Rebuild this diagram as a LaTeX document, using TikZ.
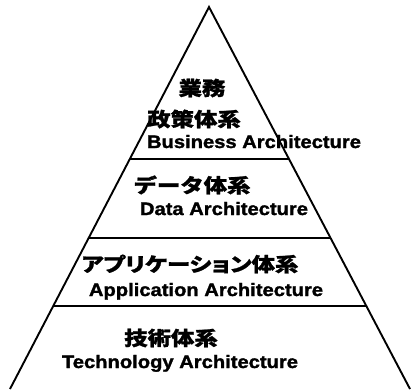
\documentclass[tikz,border=0pt]{standalone}
\usepackage{fontspec}
\setmainfont{Liberation Sans}[FakeStretch=1.12, BoldFeatures={FakeBold=1.6}]
\newfontfamily\jpfont{Noto Sans CJK JP}[FakeStretch=1.2, BoldFeatures={FakeBold=1.2}]
\newfontfamily\jpkana{Noto Sans CJK JP}[FakeStretch=1.2, RawFeature=+palt, BoldFeatures={FakeBold=1.2}]
\usetikzlibrary{intersections}

\begin{document}
\begin{tikzpicture}[
  x=1pt, y=-1pt,
  line/.style={
    line width=1.9pt,
    draw=black,
  },
  jp/.style={font=\jpfont\bfseries\fontsize{19.5}{20}\selectfont, inner sep=0pt},
  en/.style={font=\bfseries\fontsize{18}{19}\selectfont, inner sep=0pt, anchor=base}]
  \useasboundingbox (0,0) rectangle (411,389);
  \coordinate (A) at (10,389);
  \coordinate (B) at (410,389);
  \coordinate (C) at (209,7);
  \path[name path=AC] (A) -- (C);
  \path[name path=BC] (B) -- (C);
  \draw[line, line join=miter] (A) -- (C) -- (B);
  \foreach \y in {159,238,306}
  {
    \path[name path=horiz] (0,\y) -- (411,\y);
    \draw[line, name intersections={of=AC and horiz,by=P},
    name intersections={of=BC and horiz,by=Q}] (P) -- (Q);
  }
  \foreach \n/\x/\y/\A in
  {busA/202/88/業務, busB/194/119/政策体系, data/192/185/データ体系, tech/171/338/技術体系}
  {
    \node[jp] (\n-jp) at (\x,\y) {\A};
  }
  \node[jp, font=\jpkana\bfseries\fontsize{19.5}{20}\selectfont] (app-jp) at (190,264) {アプリケーション体系};
  \foreach \n/\x/\y/\A in
  {bus/254/148/Business Architecture, data/224/215/Data Architecture,
   app/206/296/Application Architecture, tech/180/368/Technology Architecture}
  {
    \node[en] (\n-en) at (\x,\y) {\A};
  }
\end{tikzpicture}
\end{document}
